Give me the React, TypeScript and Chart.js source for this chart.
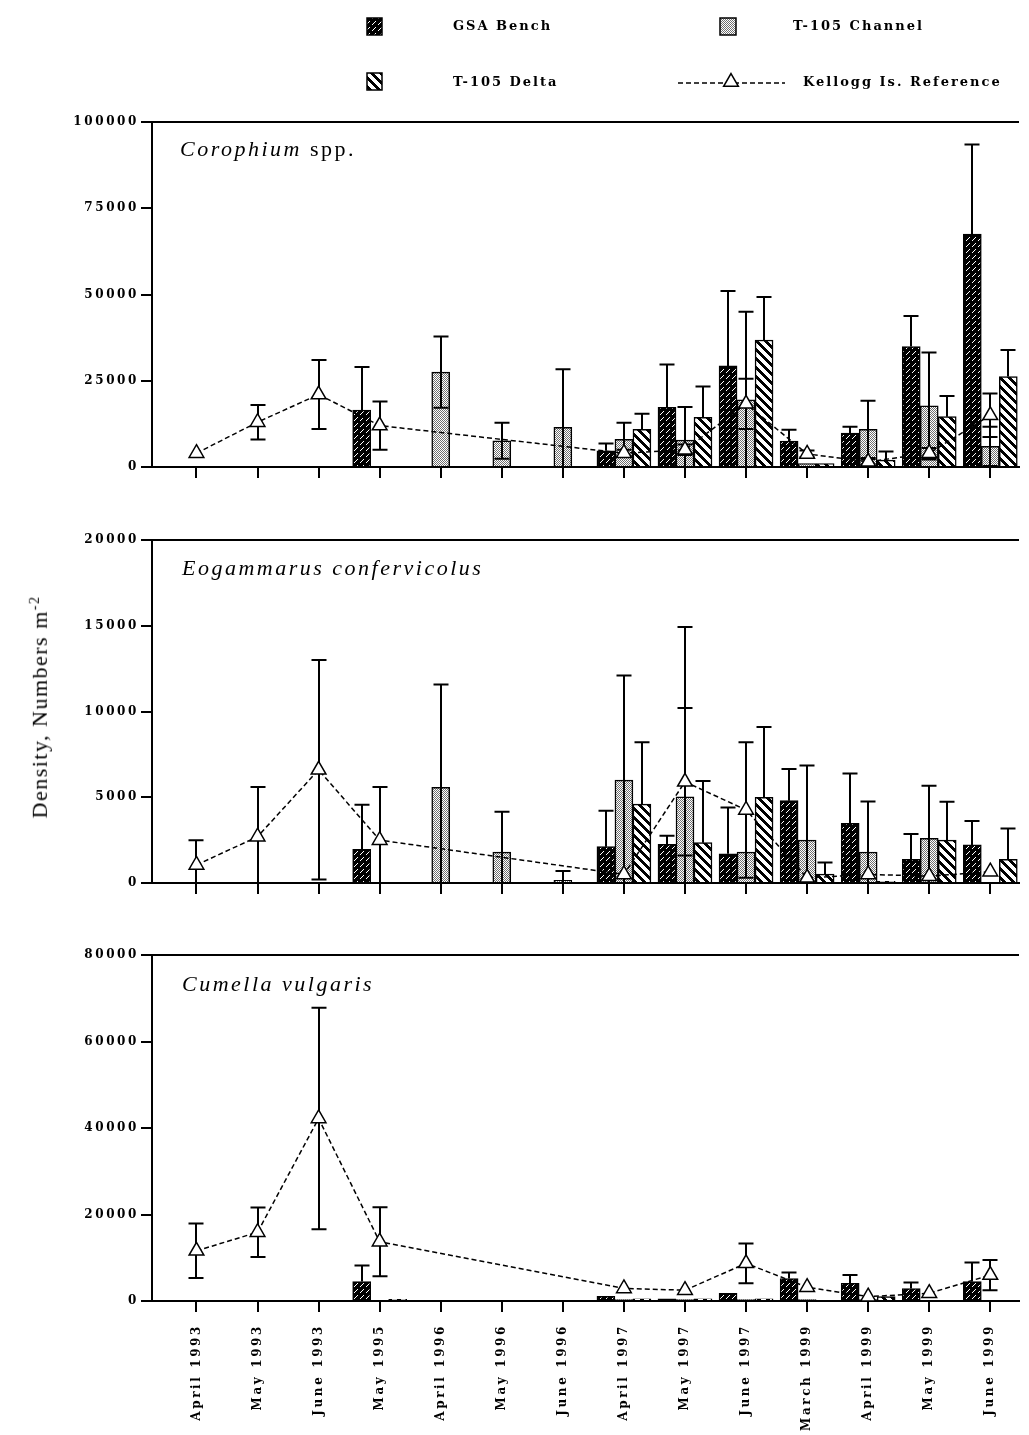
import React, { useEffect, useRef } from 'react';
import { Chart, registerables } from 'chart.js';

Chart.register(...registerables);

// ---------------- DATA ----------------
const CATEGORIES = [
  'April 1993', 'May 1993', 'June 1993', 'May 1995', 'April 1996', 'May 1996', 'June 1996',
  'April 1997', 'May 1997', 'June 1997', 'March 1999', 'April 1999', 'May 1999', 'June 1999',
];
const SERIES_NAMES = ['GSA Bench', 'T-105 Channel', 'T-105 Delta', 'Kellogg Is. Reference'];

// Corophium spp.
const COR_GSA = [null, null, null, 16500, null, null, null, 4700, 17300, 29300, 7500, 9800, 34900, 67500];
const COR_GSA_ERR = [0, 0, 0, 12500, 0, 0, 0, 2100, 12400, 21700, 3300, 1900, 8900, 26000];
const COR_CHANNEL = [null, null, null, null, 27500, 7600, 11500, 8000, 7800, 19500, 1000, 10900, 17700, 6000];
const COR_CHANNEL_ERR = [0, 0, 0, 0, 10300, 5200, 16800, 4800, 9600, 25500, 0, 8300, 15500, 5700];
const COR_DELTA = [null, null, null, null, null, null, null, 10900, 14400, 36800, 1000, 2000, 14600, 26200];
const COR_DELTA_ERR = [0, 0, 0, 0, 0, 0, 0, 4500, 8900, 12500, 0, 2500, 6000, 7700];
const COR_KELLOGG = [4000, 13000, 21000, 12000, null, null, null, 4000, 5000, 18300, 3800, 1500, 4000, 15000];
const COR_KELLOGG_ERR = [0, 5000, 10000, 7000, 0, 0, 0, 1000, 1500, 7300, 1000, 800, 1500, 6300];

// Eogammarus confervicolus
const EOG_GSA = [null, null, null, 1960, null, null, null, 2120, 2250, 1700, 4800, 3480, 1380, 2220];
const EOG_GSA_ERR = [0, 0, 0, 2600, 0, 0, 0, 2100, 500, 2700, 1850, 2900, 1480, 1400];
const EOG_CHANNEL = [null, null, null, null, 5580, 1800, 150, 6000, 5030, 1800, 2500, 1800, 2600, null];
const EOG_CHANNEL_ERR = [0, 0, 0, 0, 6000, 2350, 550, 6100, 9900, 0, 4350, 2950, 3070, 0];
const EOG_DELTA = [null, null, null, null, null, null, null, 4600, 2350, 5000, 520, 100, 2500, 1380];
const EOG_DELTA_ERR = [0, 0, 0, 0, 0, 0, 0, 3600, 3600, 4100, 670, 0, 2240, 1800];
const EOG_KELLOGG = [1050, 2700, 6600, 2500, null, null, null, 500, 5900, 4260, 300, 500, 400, 660];
const EOG_KELLOGG_ERR = [1450, 2900, 6400, 3100, 0, 0, 0, 0, 4300, 3950, 0, 0, 0, 0];

// Cumella vulgaris
const CUM_GSA = [null, null, null, 4500, null, null, null, 1100, 500, 1800, 5200, 4100, 2900, 4500];
const CUM_GSA_ERR = [0, 0, 0, 3700, 0, 0, 0, 0, 0, 0, 1400, 1900, 1400, 4400];
const CUM_CHANNEL = [null, null, null, null, null, null, null, 300, 300, 300, 300, 300, null, null];
const CUM_CHANNEL_ERR = [0, 0, 0, 0, 0, 0, 0, 0, 0, 0, 0, 0, 0, 0];
const CUM_DELTA = [null, null, null, 400, null, null, null, 500, 500, 500, null, 1000, null, null];
const CUM_DELTA_ERR = [0, 0, 0, 0, 0, 0, 0, 0, 0, 0, 0, 0, 0, 0];
const CUM_KELLOGG = [11600, 15900, 42200, 13700, null, null, null, 2900, 2500, 8700, 3200, 1000, 1800, 6000];
const CUM_KELLOGG_ERR = [6300, 5700, 25600, 8000, 0, 0, 0, 0, 0, 4600, 0, 0, 0, 3500];

const Y_MAX = [100000, 20000, 80000];
const Y_STEP = [25000, 5000, 20000];
const Y_TITLE = 'Density, Numbers m';

// ---------------- HELPERS ----------------
const X_MIN = -0.7285;
const X_MAX = 13.47;
const FONT = 'DejaVu Serif';

type Patterns = { gsa: CanvasPattern; channel: CanvasPattern; delta: CanvasPattern };

function tile(size: number, draw: (g: CanvasRenderingContext2D, s: number) => void): CanvasPattern {
  const c = document.createElement('canvas');
  c.width = size;
  c.height = size;
  const g = c.getContext('2d')!;
  draw(g, size);
  return g.createPattern(c, 'repeat')!;
}

function makePatterns(): Patterns {
  const gsa = tile(6, (g, s) => {
    g.fillStyle = '#000';
    g.fillRect(0, 0, s, s);
    g.fillStyle = '#fff';
    for (let x = 0; x < s; x++) for (let y = 0; y < s; y++) {
      if ((x + y) % s === 0 && x < 4) g.fillRect(x, y, 1, 1);
    }
  });
  const channel = tile(2, (g) => {
    g.fillStyle = '#fff';
    g.fillRect(0, 0, 2, 2);
    g.fillStyle = '#707070';
    g.fillRect(0, 0, 1, 1);
    g.fillRect(1, 1, 1, 1);
  });
  const delta = tile(9, (g, s) => {
    g.fillStyle = '#fff';
    g.fillRect(0, 0, s, s);
    g.fillStyle = '#000';
    for (let x = 0; x < s; x++) for (let y = 0; y < s; y++) {
      if ((((x - y) % s) + s) % s < 4) g.fillRect(x, y, 1, 1);
    }
  });
  return { gsa, channel, delta };
}

function toXY(arr: (number | null)[]) {
  return arr.map((v, i) => ({ x: i, y: v }));
}

function drawErrors(chart: any, index: number) {
  const ds = chart.data.datasets[index];
  const errs: number[] = ds.errors;
  if (!errs) return;
  const meta = chart.getDatasetMeta(index);
  const ys = chart.scales.y;
  const ctx: CanvasRenderingContext2D = chart.ctx;
  const cap = 7.5;
  ctx.save();
  ctx.strokeStyle = '#000';
  ctx.lineWidth = 2;
  ctx.setLineDash([]);
  meta.data.forEach((el: any, j: number) => {
    const v = ds.data[j].y;
    const e = errs[j];
    if (v == null || !e) return;
    const x = Math.round(el.x);
    const vy = ys.getPixelForValue(v);
    const top = ys.getPixelForValue(v + e);
    ctx.beginPath();
    ctx.moveTo(x, vy);
    ctx.lineTo(x, top);
    ctx.moveTo(x - cap, top);
    ctx.lineTo(x + cap, top);
    if (ds.lowerErr) {
      const lowV = v - e;
      const low = ys.getPixelForValue(Math.max(0, lowV));
      ctx.moveTo(x, vy);
      ctx.lineTo(x, low);
      if (lowV > 0) {
        ctx.moveTo(x - cap, low);
        ctx.lineTo(x + cap, low);
      }
    }
    ctx.stroke();
  });
  ctx.restore();
}

const errorBarPlugin = {
  id: 'errorBars',
  beforeDatasetDraw(chart: any, args: any) {
    if (chart.data.datasets[args.index].type === 'line') drawErrors(chart, args.index);
  },
  afterDatasetDraw(chart: any, args: any) {
    if (chart.data.datasets[args.index].type !== 'line') drawErrors(chart, args.index);
  },
};

const frameAndSpacingPlugin = {
  id: 'frameSpacing',
  beforeDraw(chart: any) {
    chart.ctx.letterSpacing = '2.6px';
  },
  afterDraw(chart: any) {
    const { ctx, chartArea } = chart;
    ctx.save();
    ctx.strokeStyle = '#000';
    ctx.lineWidth = 2;
    ctx.beginPath();
    ctx.moveTo(chartArea.left, chartArea.top);
    ctx.lineTo(chartArea.right, chartArea.top);
    ctx.stroke();
    ctx.restore();
  },
};

function triangle(ctx: CanvasRenderingContext2D, x: number, y: number, r: number) {
  const dx = r * Math.sin(Math.PI / 3);
  ctx.beginPath();
  ctx.moveTo(x, y - r);
  ctx.lineTo(x + dx, y + r / 2);
  ctx.lineTo(x - dx, y + r / 2);
  ctx.closePath();
  ctx.fillStyle = '#fff';
  ctx.fill();
  ctx.strokeStyle = '#000';
  ctx.lineWidth = 1.5;
  ctx.stroke();
}

function legendPlugin(p: Patterns) {
  return {
    id: 'customLegend',
    afterDraw(chart: any) {
      const ctx: CanvasRenderingContext2D = chart.ctx;
      ctx.save();
      (ctx as any).letterSpacing = '2px';
      const box = (x: number, y: number, w: number, h: number, fill: CanvasPattern) => {
        ctx.fillStyle = fill;
        ctx.fillRect(x, y, w, h);
        ctx.strokeStyle = '#000';
        ctx.lineWidth = 1.5;
        ctx.strokeRect(x, y, w, h);
      };
      box(367, 18, 15, 17, p.gsa);
      box(720, 18, 16, 17, p.channel);
      box(367, 73, 15, 17, p.delta);
      ctx.strokeStyle = '#000';
      ctx.lineWidth = 1.5;
      ctx.setLineDash([5, 3]);
      ctx.beginPath();
      ctx.moveTo(678, 83);
      ctx.lineTo(785, 83);
      ctx.stroke();
      ctx.setLineDash([]);
      triangle(ctx, 731, 82, 8.5);
      ctx.fillStyle = '#000';
      ctx.font = `bold 13px "${FONT}"`;
      ctx.textBaseline = 'middle';
      ctx.textAlign = 'left';
      ctx.fillText(SERIES_NAMES[0], 453, 27);
      ctx.fillText(SERIES_NAMES[1], 793, 27);
      ctx.fillText(SERIES_NAMES[2], 453, 83);
      ctx.fillText(SERIES_NAMES[3], 803, 83);
      ctx.restore();
    },
  };
}

type PanelData = {
  gsa: (number | null)[]; gsaErr: number[];
  channel: (number | null)[]; channelErr: number[];
  delta: (number | null)[]; deltaErr: number[];
  kellogg: (number | null)[]; kelloggErr: number[];
  yMax: number; yStep: number;
};

function buildChart(
  canvas: HTMLCanvasElement, d: PanelData, p: Patterns,
  padTop: number, xAxisH: number, showLabels: boolean, extraPlugins: any[],
) {
  const barCommon = {
    type: 'bar' as const,
    borderColor: '#000',
    borderWidth: 1.5,
    barThickness: 18,
    order: 1,
    lowerErr: false,
  };
  return new Chart(canvas, {
    type: 'bar',
    data: {
      datasets: [
        { ...barCommon, label: SERIES_NAMES[0], data: toXY(d.gsa), backgroundColor: p.gsa, errors: d.gsaErr } as any,
        { ...barCommon, label: SERIES_NAMES[1], data: toXY(d.channel), backgroundColor: p.channel, errors: d.channelErr, lowerErr: true } as any,
        { ...barCommon, label: SERIES_NAMES[2], data: toXY(d.delta), backgroundColor: p.delta, errors: d.deltaErr } as any,
        {
          type: 'line', label: SERIES_NAMES[3], data: toXY(d.kellogg), errors: d.kelloggErr, lowerErr: true,
          order: 0, spanGaps: true, borderColor: '#000', borderWidth: 1.5, borderDash: [5, 3],
          tension: 0, fill: false,
          pointStyle: 'triangle', pointRadius: 8.5, pointBackgroundColor: '#fff',
          pointBorderColor: '#000', pointBorderWidth: 1.5,
        } as any,
      ],
    },
    options: {
      animation: false,
      responsive: false,
      devicePixelRatio: 1,
      events: [],
      layout: { padding: { top: padTop, left: 0, right: 0, bottom: 0 } },
      plugins: { legend: { display: false }, tooltip: { enabled: false }, title: { display: false } },
      scales: {
        x: {
          type: 'linear',
          min: X_MIN,
          max: X_MAX,
          bounds: 'data',
          offset: false,
          afterBuildTicks: (s: any) => { s.ticks = CATEGORIES.map((_, i) => ({ value: i })); },
          afterFit: (s: any) => {
            s.height = xAxisH;
            s.paddingLeft = 0; s.paddingRight = 0; s.paddingTop = 0; s.paddingBottom = 0;
          },
          grid: { offset: false, drawOnChartArea: false, drawTicks: true, tickLength: 11, color: '#000', lineWidth: 2 },
          border: { display: true, color: '#000', width: 2 },
          ticks: {
            display: showLabels,
            autoSkip: false,
            minRotation: 90,
            maxRotation: 90,
            padding: 12,
            color: '#000',
            font: { family: FONT, size: 12, weight: 'bold' },
            callback: (v: any) => CATEGORIES[Math.round(Number(v))] ?? '',
          },
        },
        y: {
          type: 'linear',
          min: 0,
          max: d.yMax,
          afterFit: (s: any) => {
            s.width = 152;
            s.paddingTop = 0; s.paddingBottom = 0; s.paddingLeft = 0; s.paddingRight = 0;
          },
          grid: { drawOnChartArea: false, drawTicks: true, tickLength: 11, color: '#000', lineWidth: 2 },
          border: { display: true, color: '#000', width: 2 },
          ticks: {
            stepSize: d.yStep,
            padding: 2,
            color: '#000',
            font: { family: FONT, size: 12, weight: 'bold' },
            callback: (v: any) => String(v),
          },
        },
      },
    } as any,
    plugins: [errorBarPlugin, frameAndSpacingPlugin, ...extraPlugins],
  });
}

const PANELS: PanelData[] = [
  {
    gsa: COR_GSA, gsaErr: COR_GSA_ERR, channel: COR_CHANNEL, channelErr: COR_CHANNEL_ERR,
    delta: COR_DELTA, deltaErr: COR_DELTA_ERR, kellogg: COR_KELLOGG, kelloggErr: COR_KELLOGG_ERR,
    yMax: Y_MAX[0], yStep: Y_STEP[0],
  },
  {
    gsa: EOG_GSA, gsaErr: EOG_GSA_ERR, channel: EOG_CHANNEL, channelErr: EOG_CHANNEL_ERR,
    delta: EOG_DELTA, deltaErr: EOG_DELTA_ERR, kellogg: EOG_KELLOGG, kelloggErr: EOG_KELLOGG_ERR,
    yMax: Y_MAX[1], yStep: Y_STEP[1],
  },
  {
    gsa: CUM_GSA, gsaErr: CUM_GSA_ERR, channel: CUM_CHANNEL, channelErr: CUM_CHANNEL_ERR,
    delta: CUM_DELTA, deltaErr: CUM_DELTA_ERR, kellogg: CUM_KELLOGG, kelloggErr: CUM_KELLOGG_ERR,
    yMax: Y_MAX[2], yStep: Y_STEP[2],
  },
];

// canvas top, canvas height, padding top, x axis height
const GEOM = [
  { top: 0, height: 490, padTop: 122, xAxisH: 23, labels: false },
  { top: 500, height: 400, padTop: 40, xAxisH: 17, labels: false },
  { top: 920, height: 515, padTop: 35, xAxisH: 134, labels: true },
];

const titleStyle: React.CSSProperties = {
  position: 'absolute',
  left: 180,
  fontFamily: '"Liberation Serif", serif',
  fontSize: 22,
  lineHeight: '22px',
  letterSpacing: '2.5px',
  whiteSpace: 'nowrap',
  color: '#000',
};

export default function App() {
  const c0 = useRef<HTMLCanvasElement>(null);
  const c1 = useRef<HTMLCanvasElement>(null);
  const c2 = useRef<HTMLCanvasElement>(null);

  useEffect(() => {
    const pats = makePatterns();
    const refs = [c0, c1, c2];
    const charts = refs.map((r, i) =>
      buildChart(r.current!, PANELS[i], pats, GEOM[i].padTop, GEOM[i].xAxisH, GEOM[i].labels,
        i === 0 ? [legendPlugin(pats)] : []),
    );
    return () => charts.forEach((c) => c.destroy());
  }, []);

  const refs = [c0, c1, c2];
  return (
    <div style={{ position: 'fixed', left: 0, top: 0, width: 1029, height: 1435, overflow: 'hidden', background: '#fff' }}>
      {GEOM.map((g, i) => (
        <canvas
          key={i}
          ref={refs[i]}
          width={1029}
          height={g.height}
          style={{ position: 'absolute', left: 0, top: g.top, width: 1029, height: g.height }}
        />
      ))}
      <div style={{ ...titleStyle, top: 138 }}>
        <i>Corophium</i> spp.
      </div>
      <div style={{ ...titleStyle, top: 557, left: 182 }}>
        <i>Eogammarus confervicolus</i>
      </div>
      <div style={{ ...titleStyle, top: 973, left: 182 }}>
        <i>Cumella vulgaris</i>
      </div>
      <div
        style={{
          position: 'absolute',
          left: 40,
          top: 707,
          transform: 'translate(-50%, -50%) rotate(-90deg)',
          fontFamily: '"Liberation Serif", serif',
          fontSize: 22,
          letterSpacing: '1.5px',
          whiteSpace: 'nowrap',
          color: '#000',
        }}
      >
        {Y_TITLE}
        <sup style={{ fontSize: 14 }}>-2</sup>
      </div>
    </div>
  );
}
